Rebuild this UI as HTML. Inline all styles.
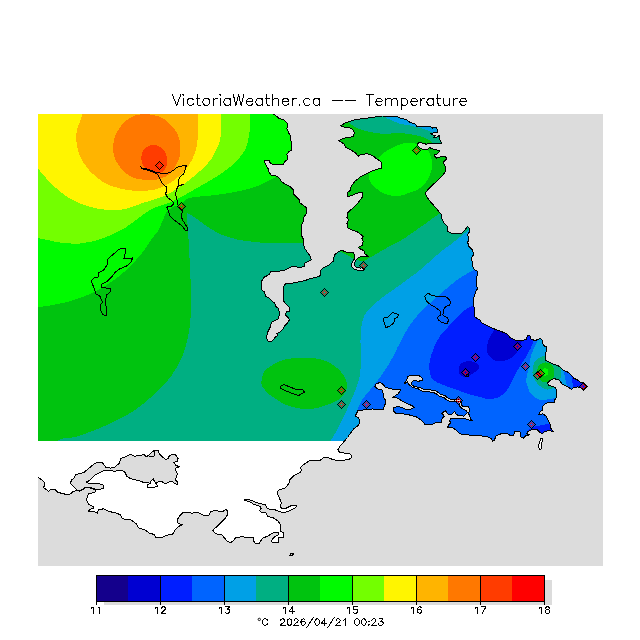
<!DOCTYPE html><html><head><meta charset="utf-8"><title>VictoriaWeather.ca Temperature</title>
<style>html,body{margin:0;padding:0;background:#fff}body{width:640px;height:640px;overflow:hidden;position:relative;font-family:"Liberation Sans",sans-serif}svg{position:absolute;left:0;top:0;display:block}text{font-family:"Liberation Sans",sans-serif;fill:#000}</style></head><body>
<svg width="640" height="640" viewBox="0 0 640 640">
<defs><clipPath id="land"><path d="M38,114L271.25,113L274.4,114.4L278.75,118.1L283.75,120L286.9,122.5L287.5,126.25L286.9,128.75L288.75,133.1L290.6,136.25L290,138.75L291.9,143.1L291.9,150L288.75,151.9L286.9,154.4L287.5,159.4L284.4,161.9L283.75,164.4L272.5,164.4L270,162.5L268.75,160L265,160L264.4,161.9L266.25,165.6L268.1,168.75L268.75,171.9L271.25,175L276.9,176.25L279.4,178.1L281.25,181.25L284.4,183.75L288.75,185.6L293.75,190L293.75,194.4L299.4,200L300,203.1L303.75,205.6L306.25,207.5L306.25,213.75L303.75,217.5L303.1,221.9L301.25,225.6L301.25,235L303.1,238.75L303.1,243.75L305,248.75L307.5,252.5L310,255.6L311.25,260L305,263.1L304.4,266.25L300,267.5L292.5,266.25L287.5,268.75L283.75,270.6L277.5,271.25L270.6,271.9L269.4,274.4L263.75,277.5L261.25,281.9L261.9,290L264.4,291.9L265.6,296.25L270,298.75L274.4,303.1L276.25,306.9L278.1,308.1L279.4,312.5L278.75,318.75L274.4,320.6L271.25,322.5L270.6,326.25L268.1,331.25L266.9,335L266.9,338.5L268,341.2L271.5,341.8L273.1,340L275,337.5L278.1,335L276.9,333.75L280,331.9L283.1,328.75L285,325.6L287.5,323.1L289.4,320L288.1,317.5L285.6,315L286.25,311.9L289.4,311.9L289.4,307.5L285.6,303.75L283.1,300L283.75,296.25L283.1,291.25L283.75,286.25L286.25,283.1L292.5,283.1L298.75,281.9L305,280.6L310,278.75L316.25,277.2L320.6,275.6L320,271.25L322.5,268.1L328.75,265L333.1,261.25L334.4,255L338.75,251.25L342.5,250.6L347.5,252.5L353.1,252.5L355,255L354.4,258.75L351.9,263.1L351.9,266.9L354.4,269.4L359.4,270.6L363.75,270L364.6,268.6L362.5,267.75L360,268.1L355.6,266.9L354.4,264.4L355.6,260.6L358.1,257.75L362.5,256.25L368.1,256.25L365,253.75L363.75,250.6L360,248.75L358.1,247.5L362.5,245L363.1,241.25L361.9,238.75L363.1,236.25L360,233.75L356.25,231.25L351.9,230L348.1,228.1L346.9,223.1L348.75,220L346.9,217.5L347.5,213.1L350.6,210L353.75,207.5L357.5,203.75L360,200L362.5,196.9L362.5,192.5L357.5,193.1L351.25,195.6L347.5,196.9L347.5,192.5L350,190.6L351.25,186.25L355,181.25L361.25,176.25L368.75,172.5L376.25,169.4L381.25,168.1L381.9,162.5L377.5,159.4L372.5,155.6L367.5,153.75L361.25,154.4L358.1,156.25L355.6,153.1L351.25,150L345.6,147.5L343.75,143.75L338.75,140.6L343.75,138.1L348.75,137.75L353.1,136.25L354.4,132.5L352.5,129.4L348.75,127.5L342.5,126.9L340.6,125.6L346.25,122.5L356.25,119.4L367.5,118.1L382.5,116L396.25,116.25L400,118.1L406.25,119.4L410,122.5L415,123.75L416.9,126.25L423.75,126.9L430,126.25L432.5,128.1L436.25,127.5L437.5,130L437.5,132.25L433.75,132.75L430.6,133.75L433.1,135L435.6,135L433.75,137.5L436.25,137.75L439.75,135L440,140L441.9,143.1L437.5,143.5L430,143.1L426.25,144.4L423.75,143.1L418.75,142.75L416.9,145L419.4,147.5L422.5,149.4L427.5,150L429.4,147.5L433.75,149.4L440,150.6L437.5,153.75L433.75,155L436.25,158.1L440,156.9L445,156.25L446.9,158.75L443.1,162.5L445,166.25L445.6,171.25L443.1,175L440,178.1L436.25,181.9L433.1,184.4L428.75,188.75L425.6,192.5L426.25,196.25L430,201.25L434.4,206.25L438.1,210.6L441.25,214.4L441.9,218.75L444.4,223.75L447.5,226.25L447.5,231.25L451.25,233.1L456.25,233.75L461.25,234L465,230L467.5,226.5L469.75,228.75L469.4,231.9L467.5,234.5L468.75,238.75L467.75,242.5L468.75,246.25L472.5,250L473.75,254L471.25,258.75L472.5,262.5L473.1,267.5L475,270L477.5,271.25L477.5,275.6L476.25,277.5L476.25,285L477.5,288.75L475.6,291.9L474.4,295.6L473.75,298.1L473.75,305L474.4,310L475,316.9L477.5,318.75L480,320L481.9,323.1L486.25,325L490,326.9L493.75,328.75L498.75,330.6L503.75,332.5L507.5,334.4L510,337.5L515,340L521.25,340.6L526.25,339.4L527.5,335.6L530,335.6L530.6,338.75L535,340.6L540,338.75L541.9,339.4L542.5,342.5L543.75,345.6L546.25,346.9L546.25,351.25L545,356.25L545,360L548.75,361.9L553.75,364.4L558.1,365.6L561.25,368.1L563.75,370.6L568.75,372.5L571.25,375L573.75,378.1L577.5,380L580.6,382.5L583.75,383.1L586.9,386.25L583.75,390L581.25,388.1L578.1,386.9L573.75,387.5L571.25,389.4L568.75,387.5L565,385.6L561.9,383.75L560,381.25L558.1,379.4L553.75,378.75L550,380.6L547.5,383.1L548.75,385.6L552.5,386.25L555.6,388.1L556.9,391.25L556.9,396.25L555,399.4L554.4,402.5L548.75,402.5L545,403.75L542.75,406.25L542.5,410L540,411.9L538.75,415L542.5,413.75L546.25,416.25L548.1,420L550,423.75L550.6,428.1L553.1,431.25L548.1,430.6L544.4,431.9L542.5,433.75L540,432.5L536.9,429.4L532.5,429.4L528.1,431.25L526.9,433.75L529.4,435L525.6,435.6L523.75,438.1L520.6,436.9L520,431.9L514.4,431.9L513.75,435L510.6,435.6L506.25,433.1L501.25,433.75L496.25,435.6L494.4,440L492.5,441.25L491.25,438.75L487.5,436.9L480,435.7L471.75,435.3L464.9,434.6L460.1,433.9L456.6,430.5L453.2,428.1L447.7,427.1L449.1,424.3L450.8,422.9L449.75,420.9L450.4,418.8L453.2,418.5L458.7,418.1L463.5,418.5L466.9,419.2L469.7,420.5L472.1,420.2L470.4,418.8L469.7,416L468.5,413.3L469.7,409.9L468.3,406.6L462.5,406.1L461.2,405.2L460.4,407.5L462.1,408.5L466.25,410.6L467.6,412.6L466.25,414L464.2,416.1L459.4,415.7L456.6,414.7L454.6,411.6L452.5,413.7L449.75,414.7L447.7,414L445.3,410.6L441.8,413.3L444.25,416.1L442.2,418.5L441.2,422.25L436,422.25L431.25,425L425,424.4L421.25,420L416.25,416.9L413.75,416.25L407.5,414.4L401.25,413.75L395.6,413.1L393.1,410.6L393.75,407.5L397.5,406.5L402.5,407.5L406.25,409.75L410,409.4L414.4,407.5L411.9,405.6L406.25,403.1L401.25,400.6L397.5,398.1L392.5,397.5L398.1,393.75L400.6,390L395,389.4L390,388.75L385,386.9L382.5,383.75L380,382.5L376.25,383.75L374.75,386.25L377.5,388.75L381.9,390L383,393L383,396.9L385,399.4L385.6,403L384.4,406.25L383.1,409.4L378.75,410L372.5,409L365,409.75L357.5,410.6L356.9,413L355,416.25L358.75,418L360,421.25L358.75,425L353.75,428.75L350,433.75L347.5,437.5L343.75,441.9L340,446.25L337.75,450L340,452.5L345,453.1L350,453.75L351.9,456.25L350.6,458.75L345,460L335,460L332.5,459.4L328.1,457.5L323.75,457.5L320.6,460L316.25,460L310.6,460L306.9,462.5L303.1,465L300,468.1L301.9,470L300,472.5L293.75,475.6L290,479.4L288.75,483.75L285,488.1L278.75,490L276.9,493.1L279.4,498.1L281.25,502.5L280.6,506.9L282.5,509L286.25,508.1L291.25,505.6L295,505L296.9,506.25L295,508.1L290,510.6L285,512.5L280,511.9L275,509.75L270,509.4L266.25,507.5L265.6,504.4L260,503.75L255,501.9L248.75,499.4L244.4,500L250,501.9L253.75,504.4L260,506.25L261.25,508.1L259.4,510.6L260.6,511.9L266.25,513.1L267.5,516.25L273.75,518.1L278.1,521.25L280.6,525L280.6,531.25L283.75,533.1L283.75,537.5L278.75,537.75L278.1,542.5L272.5,542.25L271.25,541.25L273.75,537.5L278.1,535L278.1,531.9L272.5,533.1L267.5,536.25L262.5,538.1L260.6,541.25L259.4,543.5L255.6,543.5L253.75,541.25L253.75,537.75L245,537.5L243.1,536.5L235.6,537.75L233,541.3L230.2,542.7L226.6,540.6L223.8,537.1L221.7,534.7L217.5,534.3L214.7,532.9L212.6,530.1L216.1,527.3L219.6,523.75L223.1,520.2L225.9,517.4L228,513.9L226.6,509L222.4,511.8L218.9,511.1L214.7,510.4L210.5,511.8L209,515.3L203.4,515.3L199.2,513.2L196.4,512.2L192.2,513.2L188,512.5L183,512.5L179.5,516L177.4,519.5L178.1,523.75L183,524.5L178.1,526.6L174.6,530.8L172.5,534.3L167.6,535L162.7,537.1L155.6,537.1L154.2,534.3L150,533.6L145,530L138.75,528L136.25,523.75L131.25,520L122.5,518.75L120,514.5L116,513.1L108.5,511.25L103.5,508.75L98.5,510L97.25,513.1L94.75,511.9L88.5,511.25L89.75,509.4L93.5,508.1L92.9,506.25L88.5,504.4L86.6,500L87.25,496.25L88.5,493.75L94.75,492.5L96,490L91,488.1L86,487.5L83.5,489.4L79.75,491.25L77.25,490.6L73.5,491.25L69.75,494.4L66,494.4L61,493.1L57.9,492.5L54.75,489.4L51,489.4L48.5,491.25L43.5,487.5L44.75,485L44.1,481.9L41,479.4L38,477L38,477Z"/></clipPath><clipPath id="data"><rect x="38" y="114" width="565" height="327"/></clipPath><clipPath id="plot"><rect x="38" y="114" width="565" height="452"/></clipPath></defs>
<rect x="0" y="0" width="640" height="640" fill="#fff"/>
<rect x="38" y="114" width="565" height="452" fill="#dcdcdc"/>
<g clip-path="url(#plot)">
<path d="M38,114L271.25,113L274.4,114.4L278.75,118.1L283.75,120L286.9,122.5L287.5,126.25L286.9,128.75L288.75,133.1L290.6,136.25L290,138.75L291.9,143.1L291.9,150L288.75,151.9L286.9,154.4L287.5,159.4L284.4,161.9L283.75,164.4L272.5,164.4L270,162.5L268.75,160L265,160L264.4,161.9L266.25,165.6L268.1,168.75L268.75,171.9L271.25,175L276.9,176.25L279.4,178.1L281.25,181.25L284.4,183.75L288.75,185.6L293.75,190L293.75,194.4L299.4,200L300,203.1L303.75,205.6L306.25,207.5L306.25,213.75L303.75,217.5L303.1,221.9L301.25,225.6L301.25,235L303.1,238.75L303.1,243.75L305,248.75L307.5,252.5L310,255.6L311.25,260L305,263.1L304.4,266.25L300,267.5L292.5,266.25L287.5,268.75L283.75,270.6L277.5,271.25L270.6,271.9L269.4,274.4L263.75,277.5L261.25,281.9L261.9,290L264.4,291.9L265.6,296.25L270,298.75L274.4,303.1L276.25,306.9L278.1,308.1L279.4,312.5L278.75,318.75L274.4,320.6L271.25,322.5L270.6,326.25L268.1,331.25L266.9,335L266.9,338.5L268,341.2L271.5,341.8L273.1,340L275,337.5L278.1,335L276.9,333.75L280,331.9L283.1,328.75L285,325.6L287.5,323.1L289.4,320L288.1,317.5L285.6,315L286.25,311.9L289.4,311.9L289.4,307.5L285.6,303.75L283.1,300L283.75,296.25L283.1,291.25L283.75,286.25L286.25,283.1L292.5,283.1L298.75,281.9L305,280.6L310,278.75L316.25,277.2L320.6,275.6L320,271.25L322.5,268.1L328.75,265L333.1,261.25L334.4,255L338.75,251.25L342.5,250.6L347.5,252.5L353.1,252.5L355,255L354.4,258.75L351.9,263.1L351.9,266.9L354.4,269.4L359.4,270.6L363.75,270L364.6,268.6L362.5,267.75L360,268.1L355.6,266.9L354.4,264.4L355.6,260.6L358.1,257.75L362.5,256.25L368.1,256.25L365,253.75L363.75,250.6L360,248.75L358.1,247.5L362.5,245L363.1,241.25L361.9,238.75L363.1,236.25L360,233.75L356.25,231.25L351.9,230L348.1,228.1L346.9,223.1L348.75,220L346.9,217.5L347.5,213.1L350.6,210L353.75,207.5L357.5,203.75L360,200L362.5,196.9L362.5,192.5L357.5,193.1L351.25,195.6L347.5,196.9L347.5,192.5L350,190.6L351.25,186.25L355,181.25L361.25,176.25L368.75,172.5L376.25,169.4L381.25,168.1L381.9,162.5L377.5,159.4L372.5,155.6L367.5,153.75L361.25,154.4L358.1,156.25L355.6,153.1L351.25,150L345.6,147.5L343.75,143.75L338.75,140.6L343.75,138.1L348.75,137.75L353.1,136.25L354.4,132.5L352.5,129.4L348.75,127.5L342.5,126.9L340.6,125.6L346.25,122.5L356.25,119.4L367.5,118.1L382.5,116L396.25,116.25L400,118.1L406.25,119.4L410,122.5L415,123.75L416.9,126.25L423.75,126.9L430,126.25L432.5,128.1L436.25,127.5L437.5,130L437.5,132.25L433.75,132.75L430.6,133.75L433.1,135L435.6,135L433.75,137.5L436.25,137.75L439.75,135L440,140L441.9,143.1L437.5,143.5L430,143.1L426.25,144.4L423.75,143.1L418.75,142.75L416.9,145L419.4,147.5L422.5,149.4L427.5,150L429.4,147.5L433.75,149.4L440,150.6L437.5,153.75L433.75,155L436.25,158.1L440,156.9L445,156.25L446.9,158.75L443.1,162.5L445,166.25L445.6,171.25L443.1,175L440,178.1L436.25,181.9L433.1,184.4L428.75,188.75L425.6,192.5L426.25,196.25L430,201.25L434.4,206.25L438.1,210.6L441.25,214.4L441.9,218.75L444.4,223.75L447.5,226.25L447.5,231.25L451.25,233.1L456.25,233.75L461.25,234L465,230L467.5,226.5L469.75,228.75L469.4,231.9L467.5,234.5L468.75,238.75L467.75,242.5L468.75,246.25L472.5,250L473.75,254L471.25,258.75L472.5,262.5L473.1,267.5L475,270L477.5,271.25L477.5,275.6L476.25,277.5L476.25,285L477.5,288.75L475.6,291.9L474.4,295.6L473.75,298.1L473.75,305L474.4,310L475,316.9L477.5,318.75L480,320L481.9,323.1L486.25,325L490,326.9L493.75,328.75L498.75,330.6L503.75,332.5L507.5,334.4L510,337.5L515,340L521.25,340.6L526.25,339.4L527.5,335.6L530,335.6L530.6,338.75L535,340.6L540,338.75L541.9,339.4L542.5,342.5L543.75,345.6L546.25,346.9L546.25,351.25L545,356.25L545,360L548.75,361.9L553.75,364.4L558.1,365.6L561.25,368.1L563.75,370.6L568.75,372.5L571.25,375L573.75,378.1L577.5,380L580.6,382.5L583.75,383.1L586.9,386.25L583.75,390L581.25,388.1L578.1,386.9L573.75,387.5L571.25,389.4L568.75,387.5L565,385.6L561.9,383.75L560,381.25L558.1,379.4L553.75,378.75L550,380.6L547.5,383.1L548.75,385.6L552.5,386.25L555.6,388.1L556.9,391.25L556.9,396.25L555,399.4L554.4,402.5L548.75,402.5L545,403.75L542.75,406.25L542.5,410L540,411.9L538.75,415L542.5,413.75L546.25,416.25L548.1,420L550,423.75L550.6,428.1L553.1,431.25L548.1,430.6L544.4,431.9L542.5,433.75L540,432.5L536.9,429.4L532.5,429.4L528.1,431.25L526.9,433.75L529.4,435L525.6,435.6L523.75,438.1L520.6,436.9L520,431.9L514.4,431.9L513.75,435L510.6,435.6L506.25,433.1L501.25,433.75L496.25,435.6L494.4,440L492.5,441.25L491.25,438.75L487.5,436.9L480,435.7L471.75,435.3L464.9,434.6L460.1,433.9L456.6,430.5L453.2,428.1L447.7,427.1L449.1,424.3L450.8,422.9L449.75,420.9L450.4,418.8L453.2,418.5L458.7,418.1L463.5,418.5L466.9,419.2L469.7,420.5L472.1,420.2L470.4,418.8L469.7,416L468.5,413.3L469.7,409.9L468.3,406.6L462.5,406.1L461.2,405.2L460.4,407.5L462.1,408.5L466.25,410.6L467.6,412.6L466.25,414L464.2,416.1L459.4,415.7L456.6,414.7L454.6,411.6L452.5,413.7L449.75,414.7L447.7,414L445.3,410.6L441.8,413.3L444.25,416.1L442.2,418.5L441.2,422.25L436,422.25L431.25,425L425,424.4L421.25,420L416.25,416.9L413.75,416.25L407.5,414.4L401.25,413.75L395.6,413.1L393.1,410.6L393.75,407.5L397.5,406.5L402.5,407.5L406.25,409.75L410,409.4L414.4,407.5L411.9,405.6L406.25,403.1L401.25,400.6L397.5,398.1L392.5,397.5L398.1,393.75L400.6,390L395,389.4L390,388.75L385,386.9L382.5,383.75L380,382.5L376.25,383.75L374.75,386.25L377.5,388.75L381.9,390L383,393L383,396.9L385,399.4L385.6,403L384.4,406.25L383.1,409.4L378.75,410L372.5,409L365,409.75L357.5,410.6L356.9,413L355,416.25L358.75,418L360,421.25L358.75,425L353.75,428.75L350,433.75L347.5,437.5L343.75,441.9L340,446.25L337.75,450L340,452.5L345,453.1L350,453.75L351.9,456.25L350.6,458.75L345,460L335,460L332.5,459.4L328.1,457.5L323.75,457.5L320.6,460L316.25,460L310.6,460L306.9,462.5L303.1,465L300,468.1L301.9,470L300,472.5L293.75,475.6L290,479.4L288.75,483.75L285,488.1L278.75,490L276.9,493.1L279.4,498.1L281.25,502.5L280.6,506.9L282.5,509L286.25,508.1L291.25,505.6L295,505L296.9,506.25L295,508.1L290,510.6L285,512.5L280,511.9L275,509.75L270,509.4L266.25,507.5L265.6,504.4L260,503.75L255,501.9L248.75,499.4L244.4,500L250,501.9L253.75,504.4L260,506.25L261.25,508.1L259.4,510.6L260.6,511.9L266.25,513.1L267.5,516.25L273.75,518.1L278.1,521.25L280.6,525L280.6,531.25L283.75,533.1L283.75,537.5L278.75,537.75L278.1,542.5L272.5,542.25L271.25,541.25L273.75,537.5L278.1,535L278.1,531.9L272.5,533.1L267.5,536.25L262.5,538.1L260.6,541.25L259.4,543.5L255.6,543.5L253.75,541.25L253.75,537.75L245,537.5L243.1,536.5L235.6,537.75L233,541.3L230.2,542.7L226.6,540.6L223.8,537.1L221.7,534.7L217.5,534.3L214.7,532.9L212.6,530.1L216.1,527.3L219.6,523.75L223.1,520.2L225.9,517.4L228,513.9L226.6,509L222.4,511.8L218.9,511.1L214.7,510.4L210.5,511.8L209,515.3L203.4,515.3L199.2,513.2L196.4,512.2L192.2,513.2L188,512.5L183,512.5L179.5,516L177.4,519.5L178.1,523.75L183,524.5L178.1,526.6L174.6,530.8L172.5,534.3L167.6,535L162.7,537.1L155.6,537.1L154.2,534.3L150,533.6L145,530L138.75,528L136.25,523.75L131.25,520L122.5,518.75L120,514.5L116,513.1L108.5,511.25L103.5,508.75L98.5,510L97.25,513.1L94.75,511.9L88.5,511.25L89.75,509.4L93.5,508.1L92.9,506.25L88.5,504.4L86.6,500L87.25,496.25L88.5,493.75L94.75,492.5L96,490L91,488.1L86,487.5L83.5,489.4L79.75,491.25L77.25,490.6L73.5,491.25L69.75,494.4L66,494.4L61,493.1L57.9,492.5L54.75,489.4L51,489.4L48.5,491.25L43.5,487.5L44.75,485L44.1,481.9L41,479.4L38,477L38,477Z" fill="#fff"/>
<g clip-path="url(#data)"><g clip-path="url(#land)" shape-rendering="crispEdges">
<rect x="38" y="114" width="565" height="327" fill="#00af82"/>
<path d="M20,460C26.25,460 51.25,463.17 57.5,460C63.75,456.83 54.58,444.83 57.5,441C60.42,437.17 68.75,438.83 75,437C81.25,435.17 87.92,432.83 95,430C102.08,427.17 110.83,423.33 117.5,420C124.17,416.67 129.58,413.67 135,410C140.42,406.33 145,402.33 150,398C155,393.67 160.5,389.17 165,384C169.5,378.83 173.67,372.83 177,367C180.33,361.17 182.83,356 185,349C187.17,342 189,334 190,325C191,316 191.08,306.25 191,295C190.92,283.75 190,268.33 189.5,257.5C189,246.67 188.5,237.42 188,230C187.5,222.58 186.75,215.83 186.5,213C187.92,213.75 191.92,215.5 195,217.5C198.08,219.5 200.83,222.25 205,225C209.17,227.75 214.58,231.58 220,234C225.42,236.42 230.83,238.08 237.5,239.5C244.17,240.92 252.92,241.92 260,242.5C267.08,243.08 272.92,242.92 280,243C287.08,243.08 295,242.5 302.5,243C310,243.5 318.75,244.54 325,246C331.25,247.46 336.33,250.25 340,251.75C343.67,253.25 344.71,253.83 347,255C349.29,256.17 351.17,257.75 353.75,258.75C356.33,259.75 359.79,261.21 362.5,261C365.21,260.79 365.83,259.75 370,257.5C374.17,255.25 382.08,250.5 387.5,247.5C392.92,244.5 398.42,241.92 402.5,239.5C406.58,237.08 408.25,235.58 412,233C415.75,230.42 420.17,227.42 425,224C429.83,220.58 433.5,217.33 441,212.5C448.5,207.67 465.17,197.92 470,195L620,195L620,100L20,100Z" fill="#00c30f"/>
<path d="M261.25,383C261.08,380 262.12,375 264,372C265.88,369 269.33,367 272.5,365C275.67,363 279.25,361.17 283,360C286.75,358.83 291.17,358.4 295,358C298.83,357.6 302.25,357.48 306,357.6C309.75,357.73 314,358.1 317.5,358.75C321,359.4 324.08,360.25 327,361.5C329.92,362.75 332.67,364.5 335,366.25C337.33,368 339.33,370.12 341,372C342.67,373.88 344,374.92 345,377.5C346,380.08 347.42,384.38 347,387.5C346.58,390.62 344.17,394.08 342.5,396.25C340.83,398.42 339.08,399.25 337,400.5C334.92,401.75 332.67,402.67 330,403.75C327.33,404.83 323.92,406.17 321,407C318.08,407.83 315.5,408.45 312.5,408.75C309.5,409.05 305.92,409.01 303,408.8C300.08,408.59 298,408.22 295,407.5C292,406.78 287.92,405.75 285,404.5C282.08,403.25 280,401.58 277.5,400C275,398.42 272.08,396.67 270,395C267.92,393.33 266.46,392 265,390C263.54,388 261.42,386 261.25,383Z" fill="#00c30f"/>
<path d="M20,307C23,307 32.58,307.33 38,307C43.42,306.67 47.17,305.96 52.5,305C57.83,304.04 64.17,302.92 70,301.25C75.83,299.58 82.08,297.29 87.5,295C92.92,292.71 97.5,290.42 102.5,287.5C107.5,284.58 112.92,281.04 117.5,277.5C122.08,273.96 125.83,270.42 130,266.25C134.17,262.08 138.83,257.12 142.5,252.5C146.17,247.88 149.42,242.08 152,238.5C154.58,234.92 156.17,234.08 158,231C159.83,227.92 161.5,223.25 163,220C164.5,216.75 165.17,213.75 167,211.5C168.83,209.25 172.83,207.33 174,206.5C175.25,206.47 180.25,206.33 181.5,206.3C181.92,205.5 182.79,202.88 184,201.5C185.21,200.12 186.08,198.83 188.75,198C191.42,197.17 195.62,197 200,196.5C204.38,196 208.33,195.92 215,195C221.67,194.08 232.5,192.67 240,191C247.5,189.33 254.38,187.17 260,185C265.62,182.83 269.58,180.17 273.75,178C277.92,175.83 283.12,173 285,172L300,165L300,100L20,100Z" fill="#00fa00"/>
<path d="M368.75,177.5C368.33,173.75 370.21,168.96 372.5,165C374.79,161.04 378.75,156.88 382.5,153.75C386.25,150.62 391.25,148.03 395,146.25C398.75,144.47 402.29,143.68 405,143.1C407.71,142.52 409.17,142.53 411.25,142.75C413.33,142.97 415.54,143.74 417.5,144.4C419.46,145.06 421.23,145.68 423,146.7C424.77,147.72 426.83,148.91 428.1,150.5C429.37,152.09 429.91,154.04 430.6,156.25C431.29,158.46 432.14,161.25 432.25,163.75C432.36,166.25 431.94,168.75 431.25,171.25C430.56,173.75 429.35,176.46 428.1,178.75C426.85,181.04 425.6,183.12 423.75,185C421.9,186.88 419.29,188.75 417,190C414.71,191.25 413.25,191.46 410,192.5C406.75,193.54 401.67,196.04 397.5,196.25C393.33,196.46 388.75,195.21 385,193.75C381.25,192.29 377.71,190.21 375,187.5C372.29,184.79 369.17,181.25 368.75,177.5Z" fill="#00fa00"/>
<path d="M20,238C23,238 31.75,237.29 38,238C44.25,238.71 50.5,241.33 57.5,242.25C64.5,243.17 72.5,244.12 80,243.5C87.5,242.88 95,241.08 102.5,238.5C110,235.92 118.33,231.92 125,228C131.67,224.08 137.5,218.42 142.5,215C147.5,211.58 150.83,209.42 155,207.5C159.17,205.58 163.33,205.17 167.5,203.5C171.67,201.83 176.25,199.42 180,197.5C183.75,195.58 186.67,193.88 190,192C193.33,190.12 195.83,188.67 200,186.25C204.17,183.83 209.58,181.04 215,177.5C220.42,173.96 227.5,169.58 232.5,165C237.5,160.42 242.17,155.42 245,150C247.83,144.58 248.67,138.5 249.5,132.5C250.33,126.5 249.92,117.08 250,114L250,100L20,100Z" fill="#73ff00"/>
<path d="M20,150C23,153.12 32.58,162.92 38,168.75C43.42,174.58 47.17,180 52.5,185C57.83,190 64.17,195.25 70,198.75C75.83,202.25 81.25,204.12 87.5,206C93.75,207.88 101.25,209.5 107.5,210C113.75,210.5 119.17,210.15 125,209C130.83,207.85 136.88,204.92 142.5,203.1C148.12,201.28 153.96,199.87 158.75,198.1C163.54,196.33 167.29,194.68 171.25,192.5C175.21,190.32 178.96,187.5 182.5,185C186.04,182.5 189.17,180.21 192.5,177.5C195.83,174.79 199.42,171.77 202.5,168.75C205.58,165.73 208.58,162.86 211,159.4C213.42,155.94 215.42,151.65 217,148C218.58,144.35 219.92,143.17 220.5,137.5C221.08,131.83 220.5,117.92 220.5,114L220.5,100L20,100Z" fill="#fff500"/>
<path d="M83,100C82.92,102.33 83.42,109.33 82.5,114C81.58,118.67 78.54,123.67 77.5,128C76.46,132.33 75.92,135.5 76.25,140C76.58,144.5 77.38,150 79.5,155C81.62,160 84.92,165.42 89,170C93.08,174.58 98.83,179.42 104,182.5C109.17,185.58 114.42,187.08 120,188.5C125.58,189.92 131.67,190.83 137.5,191C143.33,191.17 150,190.6 155,189.5C160,188.4 163.75,186.4 167.5,184.4C171.25,182.4 174.38,180.11 177.5,177.5C180.62,174.89 183.75,171.88 186.25,168.75C188.75,165.62 190.71,162.71 192.5,158.75C194.29,154.79 196.08,149.79 197,145C197.92,140.21 197.83,135.17 198,130C198.17,124.83 198,116.67 198,114L198,100Z" fill="#ffb400"/>
<path d="M146.5,114.3C148.58,114.4 151.25,114.55 153.5,115C155.75,115.45 158,116.17 160,117C162,117.83 163.83,118.83 165.5,120C167.17,121.17 168.58,122.58 170,124C171.42,125.42 172.83,127 174,128.5C175.17,130 176.17,131.42 177,133C177.83,134.58 178.5,136.33 179,138C179.5,139.67 179.8,141 180,143C180.2,145 180.3,147.58 180.2,150C180.1,152.42 180.06,155 179.4,157.5C178.74,160 177.61,162.5 176.25,165C174.89,167.5 173.12,170.52 171.25,172.5C169.38,174.48 167.71,175.65 165,176.9C162.29,178.15 158.75,179.55 155,180C151.25,180.45 146.17,180.02 142.5,179.6C138.83,179.18 136.08,178.85 133,177.5C129.92,176.15 126.83,174.25 124,171.5C121.17,168.75 117.83,164.58 116,161C114.17,157.42 113.33,153.5 113,150C112.67,146.5 113.5,142.67 114,140C114.5,137.33 115.17,135.83 116,134C116.83,132.17 117.92,130.67 119,129C120.08,127.33 121.17,125.5 122.5,124C123.83,122.5 125.5,121.17 127,120C128.5,118.83 130,117.78 131.5,117C133,116.22 134.42,115.73 136,115.3C137.58,114.87 139.25,114.57 141,114.4C142.75,114.23 144.42,114.2 146.5,114.3Z" fill="#ff7800"/>
<path d="M141.25,158C141.3,155.75 141.88,152.45 143,150.5C144.12,148.55 146.17,147.22 148,146.3C149.83,145.38 152,144.88 154,145C156,145.12 158.17,145.83 160,147C161.83,148.17 163.75,149.83 165,152C166.25,154.17 167.25,157.58 167.5,160C167.75,162.42 167.25,164.58 166.5,166.5C165.75,168.42 164.42,170.3 163,171.5C161.58,172.7 159.83,173.5 158,173.7C156.17,173.9 154,173.48 152,172.7C150,171.92 147.55,170.45 146,169C144.45,167.55 143.49,165.83 142.7,164C141.91,162.17 141.2,160.25 141.25,158Z" fill="#ff3c00"/>
<path d="M347,105C347.08,107.17 347.21,115.08 347.5,118C347.79,120.92 347.5,121 348.75,122.5C350,124 352.71,125.75 355,127C357.29,128.25 359.79,129.12 362.5,130C365.21,130.88 367.92,131.62 371.25,132.25C374.58,132.88 378.54,133.58 382.5,133.75C386.46,133.92 392.08,133.36 395,133.25C397.92,133.14 397.92,133.02 400,133.1C402.08,133.18 405,133.43 407.5,133.75C410,134.07 412.5,134.47 415,135C417.5,135.53 420,135.97 422.5,136.9C425,137.83 427.75,139.25 430,140.6C432.25,141.95 432.67,143.1 436,145C439.33,146.9 447.67,150.83 450,152L450,105Z" fill="#00af82"/>
<path d="M381,110C381.67,111.17 383.17,115.25 385,117C386.83,118.75 389.5,119.38 392,120.5C394.5,121.62 397.42,123 400,123.75C402.58,124.5 405,124.47 407.5,125C410,125.53 412.5,126.28 415,126.9C417.5,127.53 420,128.03 422.5,128.75C425,129.47 428.25,130.51 430,131.25C431.75,131.99 430.5,132.41 433,133.2C435.5,133.99 443,135.53 445,136L445,105L381,105Z" fill="#00a0e6"/>
<path d="M480,222C477.08,224.17 466.46,232 462.5,235C458.54,238 458.33,238.33 456.25,240C454.17,241.67 452.71,242.92 450,245C447.29,247.08 445,248.33 440,252.5C435,256.67 425,265.83 420,270C415,274.17 413.33,275 410,277.5C406.67,280 404.58,281.67 400,285C395.42,288.33 387.83,293.33 382.5,297.5C377.17,301.67 371.42,305.83 368,310C364.58,314.17 363.25,317.5 362,322.5C360.75,327.5 360.67,333.75 360.5,340C360.33,346.25 361.17,353.83 361,360C360.83,366.17 360.5,371.83 359.5,377C358.5,382.17 356.75,386.33 355,391C353.25,395.67 350.83,400.83 349,405C347.17,409.17 346,411.83 344,416C342,420.17 339.25,425.83 337,430C334.75,434.17 331.58,439.17 330.5,441L330.5,460L620,460L620,222Z" fill="#00a0e6"/>
<path d="M490,262C487.42,263.33 479.08,267.62 474.5,270C469.92,272.38 466.58,273.67 462.5,276.25C458.42,278.83 454.17,282.12 450,285.5C445.83,288.88 440.83,293.58 437.5,296.5C434.17,299.42 433.33,299.83 430,303C426.67,306.17 420.83,311.83 417.5,315.5C414.17,319.17 412.42,321.42 410,325C407.58,328.58 405.08,333.25 403,337C400.92,340.75 399.46,343.67 397.5,347.5C395.54,351.33 393.33,356.25 391.25,360C389.17,363.75 386.88,367.08 385,370C383.12,372.92 382.5,374.17 380,377.5C377.5,380.83 373,386.25 370,390C367,393.75 364.08,396.67 362,400C359.92,403.33 358.33,407.67 357.5,410C356.67,412.33 356.42,412.83 357,414C357.58,415.17 360.33,416.5 361,417L364,460L620,460L620,262Z" fill="#0064ff"/>
<path d="M485,300C483.12,300.83 477.08,303.33 473.75,305C470.42,306.67 468.12,307.67 465,310C461.88,312.33 458.12,315.83 455,319C451.88,322.17 448.75,326.17 446.25,329C443.75,331.83 442.04,332.92 440,336C437.96,339.08 435.67,343.5 434,347.5C432.33,351.5 430.75,356.25 430,360C429.25,363.75 429.25,367.08 429.5,370C429.75,372.92 430.17,375.42 431.5,377.5C432.83,379.58 434.83,381 437.5,382.5C440.17,384 444.17,385.25 447.5,386.5C450.83,387.75 454.17,388.79 457.5,390C460.83,391.21 463.75,392.58 467.5,393.75C471.25,394.92 476.83,396.17 480,397C483.17,397.83 484.33,398.46 486.5,398.75C488.67,399.04 490.92,399.04 493,398.75C495.08,398.46 497,398.04 499,397C501,395.96 503.27,394.29 505,392.5C506.73,390.71 508.15,388.33 509.4,386.25C510.65,384.17 511.36,382.29 512.5,380C513.64,377.71 514.58,375.42 516.25,372.5C517.92,369.58 520.46,365.83 522.5,362.5C524.54,359.17 526.83,355.62 528.5,352.5C530.17,349.38 531.58,346.5 532.5,343.75C533.42,341 533.75,337.29 534,336L534,325L500,315L485,300Z" fill="#001eff"/>
<path d="M458.5,369C458.67,367.67 459.08,365.67 460,364.5C460.92,363.33 462.33,362.53 464,362C465.67,361.47 468.08,361.22 470,361.3C471.92,361.38 474,361.72 475.5,362.5C477,363.28 478.5,364.83 479,366C479.5,367.17 479.17,368.5 478.5,369.5C477.83,370.5 476.25,371.17 475,372C473.75,372.83 472.17,373.75 471,374.5C469.83,375.25 469.17,376.08 468,376.5C466.83,376.92 465.25,377.25 464,377C462.75,376.75 461.33,375.75 460.5,375C459.67,374.25 459.33,373.5 459,372.5C458.67,371.5 458.33,370.33 458.5,369Z" fill="#0000d2"/>
<path d="M487,347C487.33,345.67 487.92,341.67 489,339C490.08,336.33 492.33,333.17 493.5,331C494.67,328.83 495.58,326.83 496,326L505,326L522,337L521.5,342.5C521,344.5 520.08,347 519,349C517.92,351 516.5,352.88 515,354.5C513.5,356.12 512,357.67 510,358.75C508,359.83 505.08,360.58 503,361C500.92,361.42 499.5,361.75 497.5,361.25C495.5,360.75 492.75,359.54 491,358C489.25,356.46 487.67,353 487,352Z" fill="#0000d2"/>
<path d="M540,336C539.17,337.71 536.46,343.08 535,346.25C533.54,349.42 532.29,351.46 531.25,355C530.21,358.54 529.58,363.33 528.75,367.5C527.92,371.67 526.46,376.88 526.25,380C526.04,383.12 526.88,384.17 527.5,386.25C528.12,388.33 528.75,390.62 530,392.5C531.25,394.38 533.12,396.25 535,397.5C536.88,398.75 539.17,399.68 541.25,400C543.33,400.32 545.62,399.61 547.5,399.4C549.38,399.19 550.42,399.32 552.5,398.75C554.58,398.18 558.75,396.46 560,396L562,388L567,386L563,369L552,355L550,336Z" fill="#00a0e6"/>
<path d="M532.5,372.5C532.33,370.17 532.75,367.25 533.5,365C534.25,362.75 535.08,360.57 537,359C538.92,357.43 542.5,355.93 545,355.6C547.5,355.27 550,356.1 552,357C554,357.9 555.58,359.33 557,361C558.42,362.67 559.75,365 560.5,367C561.25,369 561.58,370.83 561.5,373C561.42,375.17 560.92,377.83 560,380C559.08,382.17 557.46,384.53 556,386C554.54,387.47 552.88,388.23 551.25,388.8C549.62,389.37 547.92,389.72 546.25,389.4C544.58,389.08 542.71,387.84 541.25,386.9C539.79,385.96 538.62,385.07 537.5,383.75C536.38,382.43 535.33,380.88 534.5,379C533.67,377.12 532.67,374.83 532.5,372.5Z" fill="#00af82"/>
<path d="M537,372.5C537,370.92 537.25,368.5 538,367C538.75,365.5 540.17,364.25 541.5,363.5C542.83,362.75 544.5,362.42 546,362.5C547.5,362.58 549.25,363.08 550.5,364C551.75,364.92 552.88,366.5 553.5,368C554.12,369.5 554.28,371.33 554.2,373C554.12,374.67 553.7,376.67 553,378C552.3,379.33 550.92,380.35 550,381C549.08,381.65 548.54,381.68 547.5,381.9C546.46,382.12 544.92,382.62 543.75,382.3C542.58,381.98 541.46,380.97 540.5,380C539.54,379.03 538.58,377.75 538,376.5C537.42,375.25 537,374.08 537,372.5Z" fill="#00c30f"/>
<path d="M541.6,372C541.6,371.08 542.13,369.92 542.7,369.3C543.27,368.68 544.2,368.3 545,368.3C545.8,368.3 546.92,368.68 547.5,369.3C548.08,369.92 548.5,371.08 548.5,372C548.5,372.92 548.08,374.17 547.5,374.8C546.92,375.43 545.8,375.8 545,375.8C544.2,375.8 543.27,375.43 542.7,374.8C542.13,374.17 541.6,372.92 541.6,372Z" fill="#00fa00"/>
<path d="M570.5,370L572,380L573.75,390L592,392L592,370Z" fill="#001eff"/>
<path d="M552,423.5L545,424.4L540,425.6L535,426.25L530,428.75L526.9,431.9L526,438L556,438L556,423.5Z" fill="#001eff"/>
</g></g>
<g shape-rendering="crispEdges" stroke-linejoin="round" stroke-linecap="round">
<path d="M77.25,490L72.25,485.6L70.4,483.1L71.6,480L74.1,478.1L75.4,475L78.5,473.75L83.5,472.75L86,470.6L89.75,467.5L93.5,464.4L97.25,462.5L102.25,462.25L104.1,465L106,467.5L111,468.1L115,466.9L119.4,463.1L120.6,458.75L125,456.9L130.6,454.4L134.4,456.25L140,455.6L143.75,454.4L146.25,456.9L148.75,455L151.9,451.9L154.4,450.25L158.1,450.25L159.4,453.75L162.5,456.9L165.6,459.4L168.1,458.75L169.4,455.6L172.5,454.4L175.6,455L178.1,458.1L177.5,461.25L173.75,462.5L175.6,465L179.4,466.9L175.6,468.1L176.25,472.5L177.5,473.75L176.25,477.5L175.6,480L177.5,481.9L177.5,484.4L175,483.75L173.1,481.9L171.25,481.25L168.1,482.5L165,483.75L162.5,481.9L159.4,481.25L156.25,483.1L152,484L147.5,482.5L143.75,482.5L140,481L135,479.75L130.6,478.75L126.9,476.25L125,472.5L121.9,470L117.5,470.6L114.4,471.5L111,470L106,470L101,471.9L96,474.4L92.25,477.5L89.75,480.6L86,481.9L88.5,483.1L93.5,483.1L98.5,483.75L102.9,484.4L104.1,488.1L99.75,489.4L96,489.5L91,487.6L86,487L83.5,488.8L79.75,490.6Z" fill="#dcdcdc" stroke="#000" stroke-width="1"/>
<path d="M407.5,376.25L412.5,375.25L418.75,375.6L421.9,377.5L422.5,380L418.75,381.25L413.75,380.6L411.9,381.9L411.25,384.4L413.75,386.25L418.75,387.5L422.5,389.4L421.9,390.6L417.5,388.75L411.9,386.9L408.75,384.4L407.5,381.9L404.4,383.75L405,382.5L406.9,379.4Z" fill="#dcdcdc" stroke="#000" stroke-width="1"/>
<path d="M420,388.5L422.2,390L429.5,390.8L436,392.2L439.8,395L444.8,396.9L447.8,399.5L452.2,400.6L456,400.2L459.5,400.8L460.6,404.5L461,407" fill="none" stroke="#000" stroke-width="3.2"/>
<path d="M420,388.5L422.2,390L429.5,390.8L436,392.2L439.8,395L444.8,396.9L447.8,399.5L452.2,400.6L456,400.2L459.5,400.8L460.6,404.5L461,407" fill="none" stroke="#dcdcdc" stroke-width="1.2"/>
<path d="M271.25,113L274.4,114.4L278.75,118.1L283.75,120L286.9,122.5L287.5,126.25L286.9,128.75L288.75,133.1L290.6,136.25L290,138.75L291.9,143.1L291.9,150L288.75,151.9L286.9,154.4L287.5,159.4L284.4,161.9L283.75,164.4L272.5,164.4L270,162.5L268.75,160L265,160L264.4,161.9L266.25,165.6L268.1,168.75L268.75,171.9L271.25,175L276.9,176.25L279.4,178.1L281.25,181.25L284.4,183.75L288.75,185.6L293.75,190L293.75,194.4L299.4,200L300,203.1L303.75,205.6L306.25,207.5L306.25,213.75L303.75,217.5L303.1,221.9L301.25,225.6L301.25,235L303.1,238.75L303.1,243.75L305,248.75L307.5,252.5L310,255.6L311.25,260L305,263.1L304.4,266.25L300,267.5L292.5,266.25L287.5,268.75L283.75,270.6L277.5,271.25L270.6,271.9L269.4,274.4L263.75,277.5L261.25,281.9L261.9,290L264.4,291.9L265.6,296.25L270,298.75L274.4,303.1L276.25,306.9L278.1,308.1L279.4,312.5L278.75,318.75L274.4,320.6L271.25,322.5L270.6,326.25L268.1,331.25L266.9,335L266.9,338.5L268,341.2L271.5,341.8L273.1,340L275,337.5L278.1,335L276.9,333.75L280,331.9L283.1,328.75L285,325.6L287.5,323.1L289.4,320L288.1,317.5L285.6,315L286.25,311.9L289.4,311.9L289.4,307.5L285.6,303.75L283.1,300L283.75,296.25L283.1,291.25L283.75,286.25L286.25,283.1L292.5,283.1L298.75,281.9L305,280.6L310,278.75L316.25,277.2L320.6,275.6L320,271.25L322.5,268.1L328.75,265L333.1,261.25L334.4,255L338.75,251.25L342.5,250.6L347.5,252.5L353.1,252.5L355,255L354.4,258.75L351.9,263.1L351.9,266.9L354.4,269.4L359.4,270.6L363.75,270L364.6,268.6L362.5,267.75L360,268.1L355.6,266.9L354.4,264.4L355.6,260.6L358.1,257.75L362.5,256.25L368.1,256.25L365,253.75L363.75,250.6L360,248.75L358.1,247.5L362.5,245L363.1,241.25L361.9,238.75L363.1,236.25L360,233.75L356.25,231.25L351.9,230L348.1,228.1L346.9,223.1L348.75,220L346.9,217.5L347.5,213.1L350.6,210L353.75,207.5L357.5,203.75L360,200L362.5,196.9L362.5,192.5L357.5,193.1L351.25,195.6L347.5,196.9L347.5,192.5L350,190.6L351.25,186.25L355,181.25L361.25,176.25L368.75,172.5L376.25,169.4L381.25,168.1L381.9,162.5L377.5,159.4L372.5,155.6L367.5,153.75L361.25,154.4L358.1,156.25L355.6,153.1L351.25,150L345.6,147.5L343.75,143.75L338.75,140.6L343.75,138.1L348.75,137.75L353.1,136.25L354.4,132.5L352.5,129.4L348.75,127.5L342.5,126.9L340.6,125.6L346.25,122.5L356.25,119.4L367.5,118.1L382.5,116L396.25,116.25L400,118.1L406.25,119.4L410,122.5L415,123.75L416.9,126.25L423.75,126.9L430,126.25L432.5,128.1L436.25,127.5L437.5,130L437.5,132.25L433.75,132.75L430.6,133.75L433.1,135L435.6,135L433.75,137.5L436.25,137.75L439.75,135L440,140L441.9,143.1L437.5,143.5L430,143.1L426.25,144.4L423.75,143.1L418.75,142.75L416.9,145L419.4,147.5L422.5,149.4L427.5,150L429.4,147.5L433.75,149.4L440,150.6L437.5,153.75L433.75,155L436.25,158.1L440,156.9L445,156.25L446.9,158.75L443.1,162.5L445,166.25L445.6,171.25L443.1,175L440,178.1L436.25,181.9L433.1,184.4L428.75,188.75L425.6,192.5L426.25,196.25L430,201.25L434.4,206.25L438.1,210.6L441.25,214.4L441.9,218.75L444.4,223.75L447.5,226.25L447.5,231.25L451.25,233.1L456.25,233.75L461.25,234L465,230L467.5,226.5L469.75,228.75L469.4,231.9L467.5,234.5L468.75,238.75L467.75,242.5L468.75,246.25L472.5,250L473.75,254L471.25,258.75L472.5,262.5L473.1,267.5L475,270L477.5,271.25L477.5,275.6L476.25,277.5L476.25,285L477.5,288.75L475.6,291.9L474.4,295.6L473.75,298.1L473.75,305L474.4,310L475,316.9L477.5,318.75L480,320L481.9,323.1L486.25,325L490,326.9L493.75,328.75L498.75,330.6L503.75,332.5L507.5,334.4L510,337.5L515,340L521.25,340.6L526.25,339.4L527.5,335.6L530,335.6L530.6,338.75L535,340.6L540,338.75L541.9,339.4L542.5,342.5L543.75,345.6L546.25,346.9L546.25,351.25L545,356.25L545,360L548.75,361.9L553.75,364.4L558.1,365.6L561.25,368.1L563.75,370.6L568.75,372.5L571.25,375L573.75,378.1L577.5,380L580.6,382.5L583.75,383.1L586.9,386.25L583.75,390L581.25,388.1L578.1,386.9L573.75,387.5L571.25,389.4L568.75,387.5L565,385.6L561.9,383.75L560,381.25L558.1,379.4L553.75,378.75L550,380.6L547.5,383.1L548.75,385.6L552.5,386.25L555.6,388.1L556.9,391.25L556.9,396.25L555,399.4L554.4,402.5L548.75,402.5L545,403.75L542.75,406.25L542.5,410L540,411.9L538.75,415L542.5,413.75L546.25,416.25L548.1,420L550,423.75L550.6,428.1L553.1,431.25L548.1,430.6L544.4,431.9L542.5,433.75L540,432.5L536.9,429.4L532.5,429.4L528.1,431.25L526.9,433.75L529.4,435L525.6,435.6L523.75,438.1L520.6,436.9L520,431.9L514.4,431.9L513.75,435L510.6,435.6L506.25,433.1L501.25,433.75L496.25,435.6L494.4,440L492.5,441.25L491.25,438.75L487.5,436.9L480,435.7L471.75,435.3L464.9,434.6L460.1,433.9L456.6,430.5L453.2,428.1L447.7,427.1L449.1,424.3L450.8,422.9L449.75,420.9L450.4,418.8L453.2,418.5L458.7,418.1L463.5,418.5L466.9,419.2L469.7,420.5L472.1,420.2L470.4,418.8L469.7,416L468.5,413.3L469.7,409.9L468.3,406.6L462.5,406.1L461.2,405.2L460.4,407.5L462.1,408.5L466.25,410.6L467.6,412.6L466.25,414L464.2,416.1L459.4,415.7L456.6,414.7L454.6,411.6L452.5,413.7L449.75,414.7L447.7,414L445.3,410.6L441.8,413.3L444.25,416.1L442.2,418.5L441.2,422.25L436,422.25L431.25,425L425,424.4L421.25,420L416.25,416.9L413.75,416.25L407.5,414.4L401.25,413.75L395.6,413.1L393.1,410.6L393.75,407.5L397.5,406.5L402.5,407.5L406.25,409.75L410,409.4L414.4,407.5L411.9,405.6L406.25,403.1L401.25,400.6L397.5,398.1L392.5,397.5L398.1,393.75L400.6,390L395,389.4L390,388.75L385,386.9L382.5,383.75L380,382.5L376.25,383.75L374.75,386.25L377.5,388.75L381.9,390L383,393L383,396.9L385,399.4L385.6,403L384.4,406.25L383.1,409.4L378.75,410L372.5,409L365,409.75L357.5,410.6L356.9,413L355,416.25L358.75,418L360,421.25L358.75,425L353.75,428.75L350,433.75L347.5,437.5L343.75,441.9L340,446.25L337.75,450L340,452.5L345,453.1L350,453.75L351.9,456.25L350.6,458.75L345,460L335,460L332.5,459.4L328.1,457.5L323.75,457.5L320.6,460L316.25,460L310.6,460L306.9,462.5L303.1,465L300,468.1L301.9,470L300,472.5L293.75,475.6L290,479.4L288.75,483.75L285,488.1L278.75,490L276.9,493.1L279.4,498.1L281.25,502.5L280.6,506.9L282.5,509L286.25,508.1L291.25,505.6L295,505L296.9,506.25L295,508.1L290,510.6L285,512.5L280,511.9L275,509.75L270,509.4L266.25,507.5L265.6,504.4L260,503.75L255,501.9L248.75,499.4L244.4,500L250,501.9L253.75,504.4L260,506.25L261.25,508.1L259.4,510.6L260.6,511.9L266.25,513.1L267.5,516.25L273.75,518.1L278.1,521.25L280.6,525L280.6,531.25L283.75,533.1L283.75,537.5L278.75,537.75L278.1,542.5L272.5,542.25L271.25,541.25L273.75,537.5L278.1,535L278.1,531.9L272.5,533.1L267.5,536.25L262.5,538.1L260.6,541.25L259.4,543.5L255.6,543.5L253.75,541.25L253.75,537.75L245,537.5L243.1,536.5L235.6,537.75L233,541.3L230.2,542.7L226.6,540.6L223.8,537.1L221.7,534.7L217.5,534.3L214.7,532.9L212.6,530.1L216.1,527.3L219.6,523.75L223.1,520.2L225.9,517.4L228,513.9L226.6,509L222.4,511.8L218.9,511.1L214.7,510.4L210.5,511.8L209,515.3L203.4,515.3L199.2,513.2L196.4,512.2L192.2,513.2L188,512.5L183,512.5L179.5,516L177.4,519.5L178.1,523.75L183,524.5L178.1,526.6L174.6,530.8L172.5,534.3L167.6,535L162.7,537.1L155.6,537.1L154.2,534.3L150,533.6L145,530L138.75,528L136.25,523.75L131.25,520L122.5,518.75L120,514.5L116,513.1L108.5,511.25L103.5,508.75L98.5,510L97.25,513.1L94.75,511.9L88.5,511.25L89.75,509.4L93.5,508.1L92.9,506.25L88.5,504.4L86.6,500L87.25,496.25L88.5,493.75L94.75,492.5L96,490L91,488.1L86,487.5L83.5,489.4L79.75,491.25L77.25,490.6L73.5,491.25L69.75,494.4L66,494.4L61,493.1L57.9,492.5L54.75,489.4L51,489.4L48.5,491.25L43.5,487.5L44.75,485L44.1,481.9L41,479.4L38,477" fill="none" stroke="#000" stroke-width="1"/>
<path d="M140.6,166.25L142.5,168.75L146.25,168.75L150,170L155,171.9L160,173.1L165,173.75L170,172.5L173.75,170L176.25,167.5L180,166.25L186.25,165.6L185,170L183.75,173.75L180,176.9L178.1,181.25L178.1,185.6L183.75,184.4L178.1,186.2L176.9,188.75L175.6,193.75L176.9,200L178.1,205L180,207.5L182.5,211.25L181.25,216.25L182.5,220L185,223.75L187.5,228L187.5,231L185.5,230.5L182.5,226.25L177.5,222.5L172.5,218.75L169.4,215L168.75,211.25L166.9,207.5L167.5,206.9L171.25,206.25L173.75,203.75L172.5,201.25L167.5,197.5L165.6,193.75L166.9,190L166.25,186.9L161.9,183.1L160,178.75L158.1,175L155,172.8L150,171L145,169.5L141.9,168.6Z" fill="none" stroke="#000" stroke-width="1"/>
<path d="M121.25,248.25L125.5,248.75L125,253.75L123.75,258.75L128.75,258.75L132.5,258L131.25,262L126.25,266.25L120,268.75L115,272.5L111.25,277.5L106.25,282L101.25,284.5L101.25,287L106.25,288L110.5,288.75L110,292.5L106.25,295L105.5,303.75L107,310L106.25,315.75L102.5,314.5L100,308.75L100,305L102.5,302.5L100,296.25L95.5,293.75L94.5,288.75L92.5,284.5L91.25,281.25L93.75,278L98,277L98.75,272.5L103.75,270L107,265L108,258.75L112.5,255L117.5,250.5Z" fill="none" stroke="#000" stroke-width="1"/>
<path d="M424.75,296.25L427.9,293.1L431,295L436,296.25L441,296.9L444.75,296.25L448.5,298.75L450.75,302.5L449.75,305L446.6,306.25L444.1,308.1L443.5,311.9L442.9,315L444.1,316.25L447.25,317.5L448.5,320.6L447.25,323.1L444.1,323.1L441,321.9L438.5,320L437.25,317.5L438.5,316.25L440.4,315L440.4,311.25L437.9,309.4L434.75,306.9L431,305L427.9,302.5L426,300Z" fill="none" stroke="#000" stroke-width="1"/>
<path d="M383.25,318.1L385.4,317.5L388.5,316.9L390.4,314.4L392.9,312.25L395.4,313.75L398.5,314.4L397.9,316.9L394.75,318.75L394.1,321.9L392.25,324.4L388.5,326.9L385.4,327.25L384.75,323.75L383.75,321.25Z" fill="none" stroke="#000" stroke-width="1"/>
<path d="M280.5,386.25L283.75,384.5L290,387L297.5,390L302.5,389.5L304.5,392L298.75,395.5L291.25,393L285,390.5L280.5,388Z" fill="none" stroke="#000" stroke-width="1"/>
<path d="M540,438.1L542.5,438.75L541.9,442.5L541.9,448.75L540,449.4L538.5,447.5L538.75,444.4L540,441.25Z" fill="#fff" stroke="#000" stroke-width="1"/>
<path d="M153.1,478.75L154.4,481.25L156.25,483.75L158.1,486.9L147.5,487.25L146.9,485L150,483.75L151.25,480.6Z" fill="#fff" stroke="#000" stroke-width="1"/>
<path d="M148.75,455.6L151.9,451.9L154.4,450.6L155,455L153.1,456.9L149.4,456.25Z" fill="#dcdcdc" stroke="#000" stroke-width="1"/>
<path d="M289.4,556L291,553.5L293.75,553L292.5,555.5Z" fill="#dcdcdc" stroke="#000" stroke-width="1"/>
</g>
<path d="M155,165h1v1h-1zM156,166h1v1h-1zM156,164h1v1h-1zM157,167h1v1h-1zM157,163h1v1h-1zM158,168h1v1h-1zM158,162h1v1h-1zM159,169h1v1h-1zM159,161h1v1h-1zM160,168h1v1h-1zM160,162h1v1h-1zM161,167h1v1h-1zM161,163h1v1h-1zM162,166h1v1h-1zM162,164h1v1h-1zM163,165h1v1h-1zM177,206h1v1h-1zM178,207h1v1h-1zM178,205h1v1h-1zM179,208h1v1h-1zM179,204h1v1h-1zM180,209h1v1h-1zM180,203h1v1h-1zM181,210h1v1h-1zM181,202h1v1h-1zM182,209h1v1h-1zM182,203h1v1h-1zM183,208h1v1h-1zM183,204h1v1h-1zM184,207h1v1h-1zM184,205h1v1h-1zM185,206h1v1h-1zM320,292h1v1h-1zM321,293h1v1h-1zM321,291h1v1h-1zM322,294h1v1h-1zM322,290h1v1h-1zM323,295h1v1h-1zM323,289h1v1h-1zM324,296h1v1h-1zM324,288h1v1h-1zM325,295h1v1h-1zM325,289h1v1h-1zM326,294h1v1h-1zM326,290h1v1h-1zM327,293h1v1h-1zM327,291h1v1h-1zM328,292h1v1h-1zM359,265h1v1h-1zM360,266h1v1h-1zM360,264h1v1h-1zM361,267h1v1h-1zM361,263h1v1h-1zM362,268h1v1h-1zM362,262h1v1h-1zM363,269h1v1h-1zM363,261h1v1h-1zM364,268h1v1h-1zM364,262h1v1h-1zM365,267h1v1h-1zM365,263h1v1h-1zM366,266h1v1h-1zM366,264h1v1h-1zM367,265h1v1h-1zM412,150h1v1h-1zM413,151h1v1h-1zM413,149h1v1h-1zM414,152h1v1h-1zM414,148h1v1h-1zM415,153h1v1h-1zM415,147h1v1h-1zM416,154h1v1h-1zM416,146h1v1h-1zM417,153h1v1h-1zM417,147h1v1h-1zM418,152h1v1h-1zM418,148h1v1h-1zM419,151h1v1h-1zM419,149h1v1h-1zM420,150h1v1h-1zM337,390h1v1h-1zM338,391h1v1h-1zM338,389h1v1h-1zM339,392h1v1h-1zM339,388h1v1h-1zM340,393h1v1h-1zM340,387h1v1h-1zM341,394h1v1h-1zM341,386h1v1h-1zM342,393h1v1h-1zM342,387h1v1h-1zM343,392h1v1h-1zM343,388h1v1h-1zM344,391h1v1h-1zM344,389h1v1h-1zM345,390h1v1h-1zM337,404h1v1h-1zM338,405h1v1h-1zM338,403h1v1h-1zM339,406h1v1h-1zM339,402h1v1h-1zM340,407h1v1h-1zM340,401h1v1h-1zM341,408h1v1h-1zM341,400h1v1h-1zM342,407h1v1h-1zM342,401h1v1h-1zM343,406h1v1h-1zM343,402h1v1h-1zM344,405h1v1h-1zM344,403h1v1h-1zM345,404h1v1h-1zM362,404h1v1h-1zM363,405h1v1h-1zM363,403h1v1h-1zM364,406h1v1h-1zM364,402h1v1h-1zM365,407h1v1h-1zM365,401h1v1h-1zM366,408h1v1h-1zM366,400h1v1h-1zM367,407h1v1h-1zM367,401h1v1h-1zM368,406h1v1h-1zM368,402h1v1h-1zM369,405h1v1h-1zM369,403h1v1h-1zM370,404h1v1h-1zM471,357h1v1h-1zM472,358h1v1h-1zM472,356h1v1h-1zM473,359h1v1h-1zM473,355h1v1h-1zM474,360h1v1h-1zM474,354h1v1h-1zM475,361h1v1h-1zM475,353h1v1h-1zM476,360h1v1h-1zM476,354h1v1h-1zM477,359h1v1h-1zM477,355h1v1h-1zM478,358h1v1h-1zM478,356h1v1h-1zM479,357h1v1h-1zM461,372h1v1h-1zM462,373h1v1h-1zM462,371h1v1h-1zM463,374h1v1h-1zM463,370h1v1h-1zM464,375h1v1h-1zM464,369h1v1h-1zM465,376h1v1h-1zM465,368h1v1h-1zM466,375h1v1h-1zM466,369h1v1h-1zM467,374h1v1h-1zM467,370h1v1h-1zM468,373h1v1h-1zM468,371h1v1h-1zM469,372h1v1h-1zM513,346h1v1h-1zM514,347h1v1h-1zM514,345h1v1h-1zM515,348h1v1h-1zM515,344h1v1h-1zM516,349h1v1h-1zM516,343h1v1h-1zM517,350h1v1h-1zM517,342h1v1h-1zM518,349h1v1h-1zM518,343h1v1h-1zM519,348h1v1h-1zM519,344h1v1h-1zM520,347h1v1h-1zM520,345h1v1h-1zM521,346h1v1h-1zM521,366h1v1h-1zM522,367h1v1h-1zM522,365h1v1h-1zM523,368h1v1h-1zM523,364h1v1h-1zM524,369h1v1h-1zM524,363h1v1h-1zM525,370h1v1h-1zM525,362h1v1h-1zM526,369h1v1h-1zM526,363h1v1h-1zM527,368h1v1h-1zM527,364h1v1h-1zM528,367h1v1h-1zM528,365h1v1h-1zM529,366h1v1h-1zM533,375h1v1h-1zM534,376h1v1h-1zM534,374h1v1h-1zM535,377h1v1h-1zM535,373h1v1h-1zM536,378h1v1h-1zM536,372h1v1h-1zM537,379h1v1h-1zM537,371h1v1h-1zM538,378h1v1h-1zM538,372h1v1h-1zM539,377h1v1h-1zM539,373h1v1h-1zM540,376h1v1h-1zM540,374h1v1h-1zM541,375h1v1h-1zM536,373h1v1h-1zM537,374h1v1h-1zM537,372h1v1h-1zM538,375h1v1h-1zM538,371h1v1h-1zM539,376h1v1h-1zM539,370h1v1h-1zM540,377h1v1h-1zM540,369h1v1h-1zM541,376h1v1h-1zM541,370h1v1h-1zM542,375h1v1h-1zM542,371h1v1h-1zM543,374h1v1h-1zM543,372h1v1h-1zM544,373h1v1h-1zM579,386h1v1h-1zM580,387h1v1h-1zM580,385h1v1h-1zM581,388h1v1h-1zM581,384h1v1h-1zM582,389h1v1h-1zM582,383h1v1h-1zM583,390h1v1h-1zM583,382h1v1h-1zM584,389h1v1h-1zM584,383h1v1h-1zM585,388h1v1h-1zM585,384h1v1h-1zM586,387h1v1h-1zM586,385h1v1h-1zM587,386h1v1h-1zM527,424h1v1h-1zM528,425h1v1h-1zM528,423h1v1h-1zM529,426h1v1h-1zM529,422h1v1h-1zM530,427h1v1h-1zM530,421h1v1h-1zM531,428h1v1h-1zM531,420h1v1h-1zM532,427h1v1h-1zM532,421h1v1h-1zM533,426h1v1h-1zM533,422h1v1h-1zM534,425h1v1h-1zM534,423h1v1h-1zM535,424h1v1h-1zM454,400h1v1h-1zM455,401h1v1h-1zM455,399h1v1h-1zM456,402h1v1h-1zM456,398h1v1h-1zM457,403h1v1h-1zM457,397h1v1h-1zM458,404h1v1h-1zM458,396h1v1h-1zM459,403h1v1h-1zM459,397h1v1h-1zM460,402h1v1h-1zM460,398h1v1h-1zM461,401h1v1h-1zM461,399h1v1h-1zM462,400h1v1h-1z" fill="#000" shape-rendering="crispEdges"/>
<path d="M157,165h1v1h-1zM158,166h1v1h-1zM158,164h1v1h-1zM159,167h1v1h-1zM159,163h1v1h-1zM160,166h1v1h-1zM160,164h1v1h-1zM161,165h1v1h-1zM179,206h1v1h-1zM180,207h1v1h-1zM180,205h1v1h-1zM181,208h1v1h-1zM181,204h1v1h-1zM182,207h1v1h-1zM182,205h1v1h-1zM183,206h1v1h-1zM322,292h1v1h-1zM323,293h1v1h-1zM323,291h1v1h-1zM324,294h1v1h-1zM324,290h1v1h-1zM325,293h1v1h-1zM325,291h1v1h-1zM326,292h1v1h-1zM361,265h1v1h-1zM362,266h1v1h-1zM362,264h1v1h-1zM363,267h1v1h-1zM363,263h1v1h-1zM364,266h1v1h-1zM364,264h1v1h-1zM365,265h1v1h-1zM414,150h1v1h-1zM415,151h1v1h-1zM415,149h1v1h-1zM416,152h1v1h-1zM416,148h1v1h-1zM417,151h1v1h-1zM417,149h1v1h-1zM418,150h1v1h-1zM339,390h1v1h-1zM340,391h1v1h-1zM340,389h1v1h-1zM341,392h1v1h-1zM341,388h1v1h-1zM342,391h1v1h-1zM342,389h1v1h-1zM343,390h1v1h-1zM339,404h1v1h-1zM340,405h1v1h-1zM340,403h1v1h-1zM341,406h1v1h-1zM341,402h1v1h-1zM342,405h1v1h-1zM342,403h1v1h-1zM343,404h1v1h-1zM364,404h1v1h-1zM365,405h1v1h-1zM365,403h1v1h-1zM366,406h1v1h-1zM366,402h1v1h-1zM367,405h1v1h-1zM367,403h1v1h-1zM368,404h1v1h-1zM473,357h1v1h-1zM474,358h1v1h-1zM474,356h1v1h-1zM475,359h1v1h-1zM475,355h1v1h-1zM476,358h1v1h-1zM476,356h1v1h-1zM477,357h1v1h-1zM463,372h1v1h-1zM464,373h1v1h-1zM464,371h1v1h-1zM465,374h1v1h-1zM465,370h1v1h-1zM466,373h1v1h-1zM466,371h1v1h-1zM467,372h1v1h-1zM515,346h1v1h-1zM516,347h1v1h-1zM516,345h1v1h-1zM517,348h1v1h-1zM517,344h1v1h-1zM518,347h1v1h-1zM518,345h1v1h-1zM519,346h1v1h-1zM523,366h1v1h-1zM524,367h1v1h-1zM524,365h1v1h-1zM525,368h1v1h-1zM525,364h1v1h-1zM526,367h1v1h-1zM526,365h1v1h-1zM527,366h1v1h-1zM535,375h1v1h-1zM536,376h1v1h-1zM536,374h1v1h-1zM537,377h1v1h-1zM537,373h1v1h-1zM538,376h1v1h-1zM538,374h1v1h-1zM539,375h1v1h-1zM538,373h1v1h-1zM539,374h1v1h-1zM539,372h1v1h-1zM540,375h1v1h-1zM540,371h1v1h-1zM541,374h1v1h-1zM541,372h1v1h-1zM542,373h1v1h-1zM581,386h1v1h-1zM582,387h1v1h-1zM582,385h1v1h-1zM583,388h1v1h-1zM583,384h1v1h-1zM584,387h1v1h-1zM584,385h1v1h-1zM585,386h1v1h-1zM529,424h1v1h-1zM530,425h1v1h-1zM530,423h1v1h-1zM531,426h1v1h-1zM531,422h1v1h-1zM532,425h1v1h-1zM532,423h1v1h-1zM533,424h1v1h-1zM456,400h1v1h-1zM457,401h1v1h-1zM457,399h1v1h-1zM458,402h1v1h-1zM458,398h1v1h-1zM459,401h1v1h-1zM459,399h1v1h-1zM460,400h1v1h-1z" fill="#ff0000" shape-rendering="crispEdges"/>
<path d="M466,374h3v3h-3zM467,375h1v1h-1z" fill="#000" fill-rule="evenodd" shape-rendering="crispEdges"/>
</g>
<g shape-rendering="crispEdges">
<rect x="104" y="580" width="448" height="25" fill="#dcdcdc"/>
<rect x="96" y="575" width="32" height="27" fill="#14008c"/>
<rect x="128" y="575" width="32" height="27" fill="#0000d2"/>
<rect x="160" y="575" width="32" height="27" fill="#001eff"/>
<rect x="192" y="575" width="32" height="27" fill="#0064ff"/>
<rect x="224" y="575" width="32" height="27" fill="#00a0e6"/>
<rect x="256" y="575" width="32" height="27" fill="#00af82"/>
<rect x="288" y="575" width="32" height="27" fill="#00c30f"/>
<rect x="320" y="575" width="32" height="27" fill="#00fa00"/>
<rect x="352" y="575" width="32" height="27" fill="#73ff00"/>
<rect x="384" y="575" width="32" height="27" fill="#fff500"/>
<rect x="416" y="575" width="32" height="27" fill="#ffb400"/>
<rect x="448" y="575" width="32" height="27" fill="#ff7800"/>
<rect x="480" y="575" width="32" height="27" fill="#ff3c00"/>
<rect x="512" y="575" width="32" height="27" fill="#ff0000"/>
<path d="M96,575.5H544.5M96,601.5H544.5" stroke="#000" stroke-width="1" fill="none"/>
<path d="M96.5,575V604.5" stroke="#000" stroke-width="1.2" fill="none"/>
<path d="M160.5,575V604.5" stroke="#000" stroke-width="1.2" fill="none"/>
<path d="M224.5,575V604.5" stroke="#000" stroke-width="1.2" fill="none"/>
<path d="M288.5,575V604.5" stroke="#000" stroke-width="1.2" fill="none"/>
<path d="M352.5,575V604.5" stroke="#000" stroke-width="1.2" fill="none"/>
<path d="M416.5,575V604.5" stroke="#000" stroke-width="1.2" fill="none"/>
<path d="M480.5,575V604.5" stroke="#000" stroke-width="1.2" fill="none"/>
<path d="M544.5,575V604.5" stroke="#000" stroke-width="1.2" fill="none"/>
</g>
<path d="M172.43,94.69L176.62,105.5M180.83,94.69L176.62,105.5M182.92,94.69L183.45,95.2L183.97,94.69L183.45,94.17L182.92,94.69M183.45,98.29L183.45,105.5M193.42,99.83L192.37,98.81L191.32,98.29L189.75,98.29L188.7,98.81L187.65,99.83L187.12,101.38L187.12,102.41L187.65,103.95L188.7,104.98L189.75,105.5L191.32,105.5L192.37,104.98L193.42,103.95M197.62,94.69L197.62,103.44L198.15,104.98L199.2,105.5L200.25,105.5M196.05,98.29L199.72,98.29M205.5,98.29L204.45,98.81L203.4,99.83L202.87,101.38L202.87,102.41L203.4,103.95L204.45,104.98L205.5,105.5L207.07,105.5L208.12,104.98L209.17,103.95L209.7,102.41L209.7,101.38L209.17,99.83L208.12,98.81L207.07,98.29L205.5,98.29M213.37,98.29L213.37,105.5M213.37,101.38L213.9,99.83L214.95,98.81L216,98.29L217.57,98.29M219.67,94.69L220.2,95.2L220.72,94.69L220.2,94.17L219.67,94.69M220.2,98.29L220.2,105.5M230.17,98.29L230.17,105.5M230.17,99.83L229.12,98.81L228.07,98.29L226.5,98.29L225.45,98.81L224.4,99.83L223.87,101.38L223.87,102.41L224.4,103.95L225.45,104.98L226.5,105.5L228.07,105.5L229.12,104.98L230.17,103.95M233.32,94.69L235.95,105.5M238.57,94.69L235.95,105.5M238.57,94.69L241.2,105.5M243.82,94.69L241.2,105.5M246.45,101.38L252.75,101.38L252.75,100.35L252.22,99.32L251.7,98.81L250.65,98.29L249.07,98.29L248.02,98.81L246.97,99.83L246.45,101.38L246.45,102.41L246.97,103.95L248.02,104.98L249.07,105.5L250.65,105.5L251.7,104.98L252.75,103.95M262.2,98.29L262.2,105.5M262.2,99.83L261.15,98.81L260.1,98.29L258.52,98.29L257.47,98.81L256.42,99.83L255.9,101.38L255.9,102.41L256.42,103.95L257.47,104.98L258.52,105.5L260.1,105.5L261.15,104.98L262.2,103.95M266.92,94.69L266.92,103.44L267.45,104.98L268.5,105.5L269.55,105.5M265.35,98.29L269.02,98.29M272.7,94.69L272.7,105.5M272.7,100.35L274.27,98.81L275.32,98.29L276.9,98.29L277.95,98.81L278.47,100.35L278.47,105.5M282.15,101.38L288.45,101.38L288.45,100.35L287.93,99.32L287.4,98.81L286.35,98.29L284.77,98.29L283.72,98.81L282.68,99.83L282.15,101.38L282.15,102.41L282.68,103.95L283.72,104.98L284.77,105.5L286.35,105.5L287.4,104.98L288.45,103.95M292.12,98.29L292.12,105.5M292.12,101.38L292.65,99.83L293.7,98.81L294.75,98.29L296.32,98.29M299.47,104.47L298.95,104.98L299.47,105.5L300,104.98L299.47,104.47M309.97,99.83L308.92,98.81L307.87,98.29L306.3,98.29L305.25,98.81L304.2,99.83L303.67,101.38L303.67,102.41L304.2,103.95L305.25,104.98L306.3,105.5L307.87,105.5L308.92,104.98L309.97,103.95M319.42,98.29L319.42,105.5M319.42,99.83L318.37,98.81L317.32,98.29L315.75,98.29L314.7,98.81L313.65,99.83L313.12,101.38L313.12,102.41L313.65,103.95L314.7,104.98L315.75,105.5L317.32,105.5L318.37,104.98L319.42,103.95M369.98,94.69L369.98,105.5M366.32,94.69L373.65,94.69M375.74,101.38L382.01,101.38L382.01,100.35L381.49,99.32L380.97,98.81L379.92,98.29L378.35,98.29L377.31,98.81L376.26,99.83L375.74,101.38L375.74,102.41L376.26,103.95L377.31,104.98L378.35,105.5L379.92,105.5L380.97,104.98L382.01,103.95M385.67,98.29L385.67,105.5M385.67,100.35L387.24,98.81L388.29,98.29L389.86,98.29L390.9,98.81L391.43,100.35L391.43,105.5M391.43,100.35L393,98.81L394.04,98.29L395.61,98.29L396.66,98.81L397.18,100.35L397.18,105.5M401.36,98.29L401.36,109.11M401.36,99.83L402.41,98.81L403.46,98.29L405.02,98.29L406.07,98.81L407.12,99.83L407.64,101.38L407.64,102.41L407.12,103.95L406.07,104.98L405.02,105.5L403.46,105.5L402.41,104.98L401.36,103.95M410.78,101.38L417.05,101.38L417.05,100.35L416.53,99.32L416.01,98.81L414.96,98.29L413.39,98.29L412.35,98.81L411.3,99.83L410.78,101.38L410.78,102.41L411.3,103.95L412.35,104.98L413.39,105.5L414.96,105.5L416.01,104.98L417.05,103.95M420.71,98.29L420.71,105.5M420.71,101.38L421.24,99.83L422.28,98.81L423.33,98.29L424.9,98.29M433.27,98.29L433.27,105.5M433.27,99.83L432.22,98.81L431.17,98.29L429.61,98.29L428.56,98.81L427.51,99.83L426.99,101.38L426.99,102.41L427.51,103.95L428.56,104.98L429.61,105.5L431.17,105.5L432.22,104.98L433.27,103.95M437.97,94.69L437.97,103.44L438.5,104.98L439.54,105.5L440.59,105.5M436.4,98.29L440.07,98.29M443.73,98.29L443.73,103.44L444.25,104.98L445.3,105.5L446.87,105.5L447.91,104.98L449.48,103.44M449.48,98.29L449.48,105.5M453.66,98.29L453.66,105.5M453.66,101.38L454.19,99.83L455.23,98.81L456.28,98.29L457.85,98.29M459.94,101.38L466.22,101.38L466.22,100.35L465.69,99.32L465.17,98.81L464.12,98.29L462.56,98.29L461.51,98.81L460.46,99.83L459.94,101.38L459.94,102.41L460.46,103.95L461.51,104.98L462.56,105.5L464.12,105.5L465.17,104.98L466.22,103.95M332.5,100.5H342M345.5,100.5H355.5M91.37,608.1L92.04,607.8L93.06,606.9L93.06,613.2M98.13,608.1L98.8,607.8L99.82,606.9L99.82,613.2M155.37,608.1L156.04,607.8L157.06,606.9L157.06,613.2M161.45,608.4L161.45,608.1L161.79,607.5L162.13,607.2L162.8,606.9L164.16,606.9L164.83,607.2L165.17,607.5L165.51,608.1L165.51,608.7L165.17,609.3L164.49,610.2L161.11,613.2L165.85,613.2M219.37,608.1L220.04,607.8L221.06,606.9L221.06,613.2M225.79,606.9L229.51,606.9L227.48,609.3L228.49,609.3L229.17,609.6L229.51,609.9L229.85,610.8L229.85,611.4L229.51,612.3L228.83,612.9L227.82,613.2L226.8,613.2L225.79,612.9L225.45,612.6L225.11,612M283.37,608.1L284.04,607.8L285.06,606.9L285.06,613.2M292.49,606.9L289.11,611.1L294.18,611.1M292.49,606.9L292.49,613.2M347.37,608.1L348.04,607.8L349.06,606.9L349.06,613.2M357.17,606.9L353.79,606.9L353.45,609.6L353.79,609.3L354.8,609L355.82,609L356.83,609.3L357.51,609.9L357.85,610.8L357.85,611.4L357.51,612.3L356.83,612.9L355.82,613.2L354.8,613.2L353.79,612.9L353.45,612.6L353.11,612M411.37,608.1L412.04,607.8L413.06,606.9L413.06,613.2M421.51,607.8L421.17,607.2L420.16,606.9L419.48,606.9L418.47,607.2L417.79,608.1L417.45,609.6L417.45,611.1L417.79,612.3L418.47,612.9L419.48,613.2L419.82,613.2L420.83,612.9L421.51,612.3L421.85,611.4L421.85,611.1L421.51,610.2L420.83,609.6L419.82,609.3L419.48,609.3L418.47,609.6L417.79,610.2L417.45,611.1M475.37,608.1L476.04,607.8L477.06,606.9L477.06,613.2M485.85,606.9L482.47,613.2M481.11,606.9L485.85,606.9M539.37,608.1L540.04,607.8L541.06,606.9L541.06,613.2M546.8,606.9L545.79,607.2L545.45,607.8L545.45,608.4L545.79,609L546.47,609.3L547.82,609.6L548.83,609.9L549.51,610.5L549.85,611.1L549.85,612L549.51,612.6L549.17,612.9L548.16,613.2L546.8,613.2L545.79,612.9L545.45,612.6L545.11,612L545.11,611.1L545.45,610.5L546.13,609.9L547.14,609.6L548.49,609.3L549.17,609L549.51,608.4L549.51,607.8L549.17,607.2L548.16,606.9L546.8,606.9M267.48,620.4L267.15,619.8L266.47,619.2L265.79,618.9L264.44,618.9L263.77,619.2L263.09,619.8L262.75,620.4L262.41,621.3L262.41,622.8L262.75,623.7L263.09,624.3L263.77,624.9L264.44,625.2L265.79,625.2L266.47,624.9L267.15,624.3L267.48,623.7M280.67,620.4L280.67,620.1L281,619.5L281.34,619.2L282.02,618.9L283.37,618.9L284.05,619.2L284.38,619.5L284.72,620.1L284.72,620.7L284.38,621.3L283.71,622.2L280.33,625.2L285.06,625.2M289.12,618.9L288.1,619.2L287.43,620.1L287.09,621.6L287.09,622.5L287.43,624L288.1,624.9L289.12,625.2L289.79,625.2L290.81,624.9L291.48,624L291.82,622.5L291.82,621.6L291.48,620.1L290.81,619.2L289.79,618.9L289.12,618.9M294.19,620.4L294.19,620.1L294.52,619.5L294.86,619.2L295.54,618.9L296.89,618.9L297.57,619.2L297.9,619.5L298.24,620.1L298.24,620.7L297.9,621.3L297.23,622.2L293.85,625.2L298.58,625.2M305,619.8L304.66,619.2L303.65,618.9L302.97,618.9L301.96,619.2L301.28,620.1L300.95,621.6L300.95,623.1L301.28,624.3L301.96,624.9L302.97,625.2L303.31,625.2L304.33,624.9L305,624.3L305.34,623.4L305.34,623.1L305,622.2L304.33,621.6L303.31,621.3L302.97,621.3L301.96,621.6L301.28,622.2L300.95,623.1M313.11,617.7L307.03,627.3M316.83,618.9L315.82,619.2L315.14,620.1L314.8,621.6L314.8,622.5L315.14,624L315.82,624.9L316.83,625.2L317.51,625.2L318.52,624.9L319.2,624L319.54,622.5L319.54,621.6L319.2,620.1L318.52,619.2L317.51,618.9L316.83,618.9M324.94,618.9L321.56,623.1L326.63,623.1M324.94,618.9L324.94,625.2M334.07,617.7L327.99,627.3M336.1,620.4L336.1,620.1L336.44,619.5L336.77,619.2L337.45,618.9L338.8,618.9L339.48,619.2L339.82,619.5L340.15,620.1L340.15,620.7L339.82,621.3L339.14,622.2L335.76,625.2L340.49,625.2M343.53,620.1L344.21,619.8L345.22,618.9L345.22,625.2M356.72,618.9L355.7,619.2L355.03,620.1L354.69,621.6L354.69,622.5L355.03,624L355.7,624.9L356.72,625.2L357.39,625.2L358.41,624.9L359.08,624L359.42,622.5L359.42,621.6L359.08,620.1L358.41,619.2L357.39,618.9L356.72,618.9M363.48,618.9L362.46,619.2L361.79,620.1L361.45,621.6L361.45,622.5L361.79,624L362.46,624.9L363.48,625.2L364.15,625.2L365.17,624.9L365.84,624L366.18,622.5L366.18,621.6L365.84,620.1L365.17,619.2L364.15,618.9L363.48,618.9M368.88,621L368.55,621.3L368.88,621.6L369.22,621.3L368.88,621M368.88,624.6L368.55,624.9L368.88,625.2L369.22,624.9L368.88,624.6M371.93,620.4L371.93,620.1L372.26,619.5L372.6,619.2L373.28,618.9L374.63,618.9L375.31,619.2L375.64,619.5L375.98,620.1L375.98,620.7L375.64,621.3L374.97,622.2L371.59,625.2L376.32,625.2M379.02,618.9L382.74,618.9L380.71,621.3L381.73,621.3L382.4,621.6L382.74,621.9L383.08,622.8L383.08,623.4L382.74,624.3L382.07,624.9L381.05,625.2L380.04,625.2L379.02,624.9L378.69,624.6L378.35,624" fill="none" stroke="#000" stroke-width="1" stroke-linecap="square" stroke-linejoin="round" shape-rendering="crispEdges"/>
<circle cx="259.3" cy="619.4" r="1.2" fill="none" stroke="#000" stroke-width="0.9"/>
</svg></body></html>
